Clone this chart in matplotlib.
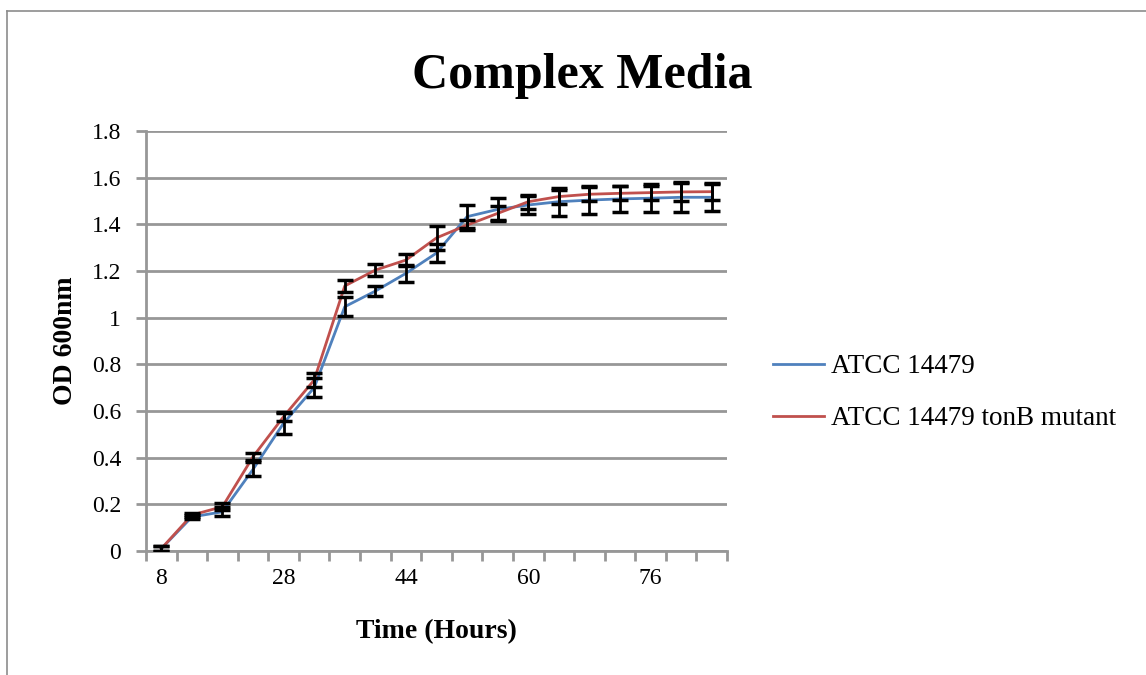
import matplotlib.pyplot as plt
from matplotlib.lines import Line2D
import numpy as np

# Time points (hours) - only every 4th label is shown on the axis
time_labels = ["8", "13", "18", "23", "28", "32", "36", "40", "44", "48",
               "52", "56", "60", "64", "68", "72", "76", "80", "84"]

wild_od = [0.01, 0.146, 0.168, 0.35, 0.548, 0.70, 1.047, 1.114, 1.19, 1.277,
           1.433, 1.464, 1.483, 1.497, 1.504, 1.509, 1.512, 1.516, 1.516]
wild_err = [0.01, 0.01, 0.02, 0.03, 0.045, 0.04, 0.04, 0.02, 0.035, 0.04,
            0.05, 0.05, 0.04, 0.06, 0.06, 0.055, 0.06, 0.065, 0.06]

mutant_od = [0.01, 0.154, 0.19, 0.404, 0.576, 0.733, 1.136, 1.204, 1.247, 1.342,
             1.397, 1.447, 1.497, 1.519, 1.529, 1.533, 1.536, 1.539, 1.540]
mutant_err = [0.01, 0.01, 0.015, 0.015, 0.02, 0.03, 0.025, 0.025, 0.025, 0.05,
              0.02, 0.03, 0.03, 0.03, 0.03, 0.03, 0.03, 0.04, 0.035]

series_names = ["ATCC 14479", "ATCC 14479 tonB mutant"]
series_colors = ["#4F81BD", "#C0504D"]

serif = ["Liberation Serif", "DejaVu Serif"]
grid_gray = "#979797"

fig = plt.figure(figsize=(11.46, 6.75), dpi=100)
ax = fig.add_axes([0.1274, 0.1837, 0.507, 0.6222])

x = np.arange(len(time_labels))

for od, err, name, color in zip([wild_od, mutant_od], [wild_err, mutant_err],
                                series_names, series_colors):
    ax.plot(x, od, color=color, linewidth=2, label=name, zorder=3)
    ax.errorbar(x, od, yerr=err, fmt="none", ecolor="black", elinewidth=2,
                capsize=6, capthick=2.5, zorder=4)

ax.set_xlim(-0.5, len(time_labels) - 0.5)
ax.set_ylim(0, 1.8)
ax.set_yticks(np.arange(0, 1.81, 0.2))
ax.set_yticklabels(["0", "0.2", "0.4", "0.6", "0.8", "1", "1.2", "1.4", "1.6", "1.8"])

# category labels at every 4th point, tick marks between categories
ax.set_xticks(x[::4])
ax.set_xticklabels(time_labels[::4])
ax.tick_params(axis="x", length=0, pad=12)
ax.set_xticks(np.arange(-0.5, len(time_labels), 1), minor=True)
ax.tick_params(axis="x", which="minor", length=7, width=2, color=grid_gray)
ax.tick_params(axis="y", length=7, width=2, color=grid_gray, pad=11)

for lbl in ax.get_xticklabels() + ax.get_yticklabels():
    lbl.set_family(serif)
    lbl.set_fontsize(17)

ax.grid(axis="y", color=grid_gray, linewidth=2)
ax.set_axisbelow(True)
for side in ["top", "right"]:
    ax.spines[side].set_visible(False)
for side in ["left", "bottom"]:
    ax.spines[side].set_color(grid_gray)
    ax.spines[side].set_linewidth(2)

ax.set_xlabel("Time (Hours)", family=serif, fontsize=20, fontweight="bold", labelpad=22)
ax.set_ylabel("OD 600nm", family=serif, fontsize=20, fontweight="bold", labelpad=10)

fig.text(0.508, 0.888, "Complex Media", family=serif, fontsize=36,
         fontweight="bold", ha="center", va="center")

handles = [Line2D([], [], color=c, linewidth=2) for c in series_colors]
fig.legend(handles, series_names, loc="center left", bbox_to_anchor=(0.653, 0.418),
           frameon=False, prop={"family": serif, "size": 19.5},
           handlelength=1.9, handletextpad=0.25, labelspacing=1.0)

# chart border (top and left edges visible)
fig.add_artist(Line2D([0.006, 1.0], [0.984, 0.984], transform=fig.transFigure,
                      color="#8c8c8c", linewidth=1.2))
fig.add_artist(Line2D([0.006, 0.006], [0.0, 0.984], transform=fig.transFigure,
                      color="#8c8c8c", linewidth=1.2))

fig.savefig("out.png", dpi=100, facecolor="white")
